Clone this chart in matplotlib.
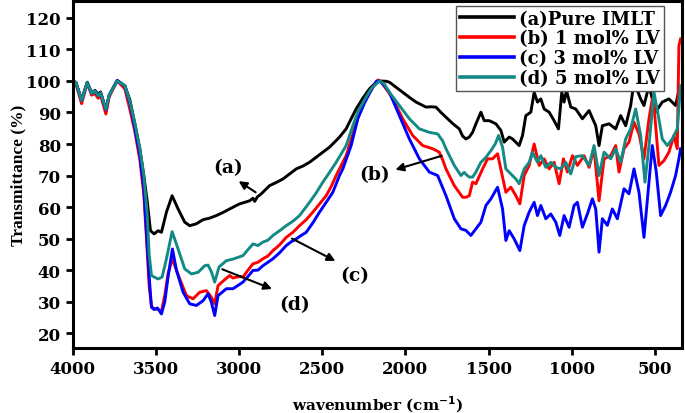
import matplotlib
matplotlib.use("Agg")
import matplotlib.pyplot as plt

# FTIR spectra (wavenumber in cm-1, transmittance in %)
w_head = [4000, 3980, 3946, 3912, 3886, 3866, 3846, 3832, 3800, 3780, 3732, 3686, 3656, 3626, 3596, 3572]

w_a = w_head + [3552, 3532, 3510, 3486, 3466, 3436, 3402, 3366, 3326, 3296, 3256, 3216, 3176, 3136,
                3096, 3056, 3016, 2996, 2936, 2916, 2906, 2890, 2866, 2816, 2776, 2736, 2696, 2656,
                2616, 2576, 2536, 2496, 2456, 2416, 2396, 2356, 2326, 2296, 2256, 2216, 2186, 2156,
                2116, 2096, 2056, 2016, 1976, 1936, 1876, 1846, 1816, 1786, 1756, 1716, 1676, 1656,
                1636, 1616, 1596, 1576, 1546, 1526, 1496, 1456, 1426, 1406, 1376, 1356, 1316, 1296,
                1276, 1246, 1226, 1206, 1186, 1166, 1136, 1106, 1080, 1060, 1046, 1032, 1006, 976,
                936, 896, 856, 836, 816, 776, 736, 706, 676, 646, 626, 606, 586, 566, 536, 496, 456,
                416, 376, 356, 346]
t_a = [100, 99.5, 94, 99.6, 96.2, 97, 95.8, 96.5, 91, 95.5, 100.1, 98.5, 94, 86.5, 78.5, 70,
       62, 52.5, 51.5, 52.5, 52, 58.4, 63.6, 59.4, 55.2, 54.1, 54.7, 56, 56.5, 57.3,
       58.3, 59.4, 60.5, 61, 62, 62.8, 61.8, 63.2, 64.2, 66.8, 67.8, 68.9, 70.5, 72.1,
       73, 74.2, 75.8, 77.4, 79, 81.1, 82.2, 84.8, 88, 91.1, 94.5, 97.5, 99, 100,
       99.9, 99.6, 98, 96.4, 94.8, 93.3, 91.7, 91.8, 91.7, 90, 88.5, 86.5, 84.8, 82.5,
       81.6, 82.2, 83.7, 86.4, 90.1, 87.4, 87.4, 86.4, 84.3, 80.6, 82.2, 81.6, 79.5, 82.7,
       89, 90.1, 96.4, 93.3, 94.3, 91.1, 90.1, 87.4, 84.8, 96.4, 93.3, 97, 91.7, 91.1,
       88, 90.6, 85.8, 79.5, 85.8, 86.4, 84.8, 89, 85.8, 92.2, 99.6, 97, 94.3, 92.2, 98.5, 90.1, 93.3,
       94.3, 92.2, 97, 98]

w_b = w_head + [3556, 3540, 3526, 3510, 3486, 3466, 3446, 3426, 3400, 3376, 3356, 3316, 3276, 3236,
                3196, 3166, 3146, 3126, 3096, 3056, 3036, 2996, 2976, 2946, 2916, 2886, 2856, 2826,
                2796, 2756, 2716, 2676, 2636, 2596, 2556, 2516, 2476, 2446, 2416, 2356, 2306, 2276,
                2236, 2196, 2166, 2146, 2116, 2096, 2076, 2016, 1956, 1896, 1836, 1796, 1776, 1756,
                1706, 1656, 1636, 1616, 1596, 1576, 1536, 1506, 1476, 1446, 1416, 1396, 1366, 1336,
                1312, 1286, 1256, 1226, 1196, 1166, 1136, 1106, 1076, 1050, 1026, 996, 966, 926,
                896, 866, 836, 806, 766, 736, 716, 686, 656, 626, 596, 566, 536, 516, 506, 476,
                446, 416, 386, 366, 356, 346]
t_b = [99.5, 99, 92.8, 99.3, 95.5, 96, 94.5, 95.5, 89.5, 95, 100, 97.5, 91, 84, 75, 64,
       50, 35, 28.5, 27.8, 27.5, 27, 32, 39, 43.6, 40, 37.2, 31.9, 30.9, 33,
       33.5, 31.4, 29.3, 35.1, 36.5, 38.3, 37.5, 38, 37.8, 40, 42, 42.5, 43.6, 44.5,
       46.2, 48, 50.4, 52, 54.1, 56, 58.4, 61, 63.6, 66.5, 70, 76.3, 84.8, 90.1,
       94.5, 98, 100.3, 99.8, 97.5, 96, 94.3, 88, 82.7, 79.5, 78.5, 77.4, 75, 72.1,
       66.8, 63.1, 63.1, 63.6, 67.9, 67.4, 72.1, 75.3, 75.3, 76.9, 69.5, 64.7, 66.3, 63.6,
       61, 70, 73.2, 80, 73.2, 75.3, 72.1, 74.2, 67.4, 75.3, 71.1, 76.3, 73.2, 76.3,
       72.6, 78.5, 62, 75.3, 76.3, 79.5, 71.1, 78.5, 80.6, 86.9, 83.2, 75.3, 88, 94.3, 92.2, 73.2,
       74.7, 77.4, 82.7, 78.5, 111.2, 113.3]

w_c = w_head + [3556, 3540, 3526, 3510, 3490, 3466, 3446, 3426, 3400, 3376, 3336, 3296, 3256, 3216,
                3186, 3166, 3146, 3126, 3076, 3036, 2976, 2946, 2916, 2886, 2856, 2826, 2796, 2756,
                2716, 2686, 2656, 2626, 2596, 2556, 2516, 2476, 2436, 2396, 2376, 2326, 2286, 2246,
                2206, 2176, 2156, 2126, 2096, 2036, 1976, 1916, 1856, 1806, 1756, 1706, 1666, 1636,
                1616, 1606, 1576, 1546, 1516, 1486, 1446, 1416, 1396, 1376, 1346, 1312, 1286, 1256,
                1226, 1206, 1186, 1156, 1126, 1096, 1072, 1046, 1016, 986, 966, 936, 906, 876,
                856, 836, 816, 786, 756, 726, 686, 656, 626, 596, 566, 546, 516, 492, 466, 436,
                406, 376, 356, 346]
t_c = [100, 99.5, 93.8, 99.5, 96, 96.8, 95.3, 96.2, 90.8, 95.5, 100.2, 98.3, 93, 85, 76.5, 66,
       52, 38, 28.2, 27.5, 28, 26.1, 30, 38, 46.7, 40, 33, 29.3, 28.8, 30.3,
       32.5, 29.8, 25.6, 31.9, 34.1, 34.1, 36.2, 38, 39.9, 40, 41.4, 42.5, 43.6, 45.5,
       47.8, 49, 49.9, 51, 52, 55, 58.4, 61.5, 64.7, 70, 72.1, 79.5, 88, 93,
       97, 99.8, 100, 98.5, 96.4, 89, 81.6, 75.3, 71.1, 70, 63.6, 56.3, 53.1, 52.6,
       51.5, 51, 53.1, 55.2, 60.5, 62.6, 66.3, 59.4, 49.4, 52.5, 49.9, 46.2, 54.1, 58.4,
       61.5, 57.3, 60.5, 56.3, 57.8, 55.2, 51, 57.3, 53.6, 60.5, 61.5, 53.6, 57.8, 62.6,
       59.4, 45.7, 56.3, 54.2, 59.4, 56.3, 65.8, 64.2, 72.1, 64.7, 50.4, 62.1, 79.5, 71.1, 57.3, 60.5,
       64.7, 70, 75.3, 78.5]

w_d = w_head + [3552, 3540, 3526, 3510, 3486, 3462, 3436, 3402, 3366, 3326, 3286, 3246, 3206, 3186,
                3166, 3146, 3120, 3076, 3036, 2976, 2946, 2916, 2886, 2856, 2826, 2796, 2756, 2716,
                2676, 2636, 2576, 2536, 2496, 2456, 2416, 2356, 2316, 2286, 2246, 2206, 2156, 2126,
                2096, 2066, 2036, 1976, 1916, 1856, 1806, 1776, 1756, 1706, 1666, 1646, 1636, 1616,
                1596, 1576, 1546, 1516, 1486, 1460, 1440, 1416, 1396, 1366, 1336, 1316, 1286, 1256,
                1236, 1206, 1186, 1156, 1126, 1096, 1066, 1036, 1006, 976, 936, 896, 866, 836,
                806, 766, 736, 706, 676, 646, 616, 586, 560, 536, 506, 480, 456, 426, 396, 366, 346]
t_d = [100, 99.5, 93.8, 99.5, 96, 96.8, 95.3, 96.2, 91, 95.5, 100, 98.5, 93.5, 86.5, 78.5, 70,
       58, 45, 38.3, 37.8, 37.2, 37.8, 43.6, 52.2, 46.7, 40.4, 38.8, 39.3, 41.4, 41.6,
       39.5, 36.2, 41, 43, 43.5, 44.6, 46.5, 48.3, 47.8, 48.9, 49.5, 51, 52.5, 54.1,
       55.5, 57.3, 61.5, 64.5, 67.9, 71, 74.2, 79.5, 85.8, 90.1, 94, 97.5, 100, 99,
       96.4, 94.3, 92.2, 88, 84.8, 83.7, 83.2, 81, 78.5, 73.2, 70, 71, 70.4, 69.5,
       69.5, 71.1, 74.2, 75.8, 77.9, 80, 82.7, 79, 72.1, 70.5, 68.9, 67.4, 72.1, 74.2,
       77.4, 74.2, 76.3, 72.6, 74.2, 72.6, 72.1, 74.2, 70.5, 76, 76.3, 73.2, 79.5, 70,
       77.4, 75.3, 78.5, 74.2, 81.6, 84.8, 91.1, 82.7, 67.9, 79.5, 96.4, 89, 81.6, 79.5, 81.6, 84.8, 98.5]

labels = ['(a)Pure IMLT', '(b) 1 mol% LV', '(c) 3 mol% LV', '(d) 5 mol% LV']
colors = ['black', '#ff0000', '#0000ff', '#138a84']
x_ticks = [4000, 3500, 3000, 2500, 2000, 1500, 1000, 500]
y_ticks = [20, 30, 40, 50, 60, 70, 80, 90, 100, 110, 120]

serif = 'DejaVu Serif'

fig = plt.figure(figsize=(6.85, 4.14), dpi=100)
ax = fig.add_axes([0.106, 0.157, 0.889, 0.837])

for w, t, lab, c in zip([w_a, w_b, w_c, w_d], [t_a, t_b, t_c, t_d], labels, colors):
    ax.plot(w, t, color=c, lw=2.1, label=lab)

ax.set_xlim(4000, 340)
ax.set_ylim(15.3, 125.2)
ax.set_xticks(x_ticks)
ax.set_yticks(y_ticks)
for s in ax.spines.values():
    s.set_linewidth(2.2)
ax.tick_params(direction='out', length=5, width=2, labelsize=12)
for lbl in ax.get_xticklabels() + ax.get_yticklabels():
    lbl.set_fontfamily(serif)
    lbl.set_fontweight('bold')

ax.set_xlabel('wavenumber (cm$^{\\mathbf{-1}}$)', fontsize=11, fontweight='bold', family=serif, labelpad=12)
ax.set_ylabel('Transmittance (%)', fontsize=12.5, fontweight='bold', family='Liberation Serif', labelpad=0)

# arrows and letters
arrows = [((3016, 68.7), (2886, 64.2), (3066, 72.6), '(a)'),
          ((2076, 71.6), (1766, 76.5), (2186, 70.5), '(b)'),
          ((2406, 42.5), (2696, 50.4), (2306, 38.3), '(c)'),
          ((2786, 33.7), (3116, 40.6), (2666, 29.3), '(d)')]
for head, tail, pos, txt in arrows:
    ax.annotate('', xy=head, xytext=tail,
                arrowprops=dict(arrowstyle='-|>', color='black', lw=1.5, mutation_scale=12))
    ax.text(pos[0], pos[1], txt, fontsize=13.5, fontweight='bold', family=serif,
            ha='center', va='center')

leg = ax.legend(loc='upper right', bbox_to_anchor=(0.971, 0.987), fancybox=False,
                edgecolor='#555555', framealpha=1, borderpad=0.2, labelspacing=0.1,
                handlelength=3.0, handletextpad=0.3, borderaxespad=0,
                prop={'family': serif, 'weight': 'bold', 'size': 13})
for h in leg.legend_handles:
    h.set_linewidth(2.6)

fig.savefig('out.png', dpi=100)
